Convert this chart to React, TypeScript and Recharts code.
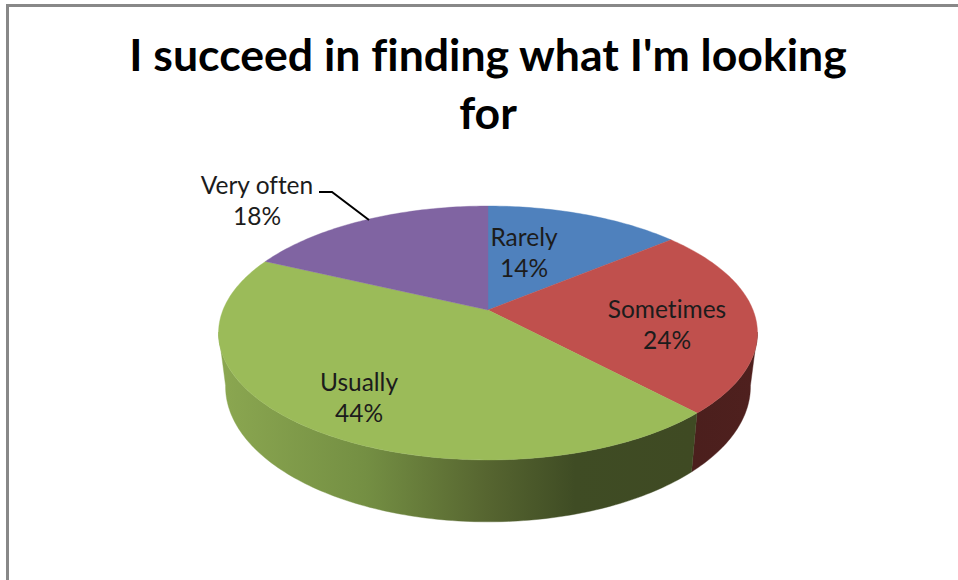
import React from "react";
import { PieChart, Pie } from "recharts";

// Survey answers, clockwise from twelve o'clock
const categories = ["Rarely", "Sometimes", "Usually", "Very often"];
const shares = [14, 24, 44, 18];

const TITLE_LINES = ["I succeed in finding what I'm looking", "for"];

const TOP_COLORS = ["#4f81bd", "#c0504d", "#9bbb59", "#8064a2"];
const WALL_COLORS = ["#2a4566", "url(#redWall)", "url(#greenWall)", "#44355a"];

// Centre of each two-line slice label
const LABEL_X = [524, 667, 359, 257];
const LABEL_Y = [236, 308, 381, 184];

const topRows = categories.map((name, i) => ({ name, value: shares[i], fill: TOP_COLORS[i] }));
const wallRows = categories.map((name, i) => ({ name, value: shares[i], fill: WALL_COLORS[i] }));

const FONT = "Lato, Carlito, sans-serif";
const TEXT_STYLE = { fontVariantLigatures: "none" } as const;

// Perspective of the disc: far side foreshortened, near side enlarged
const PERSPECTIVE = 0.181;
const TOP_PLANE = { ax: 1, by: 0.4634, dy: 0 };
const BOTTOM_PLANE = { ax: 0.974, by: 0.494, dy: 52 };
// Clockwise angle range of the rim that faces the viewer
const RIM_FROM = 100;
const RIM_TO = 260;

type Plane = typeof TOP_PLANE;

function project(theta: number, cx: number, cy: number, r: number, plane: Plane) {
  const rad = (theta * Math.PI) / 180;
  const u = Math.sin(rad);
  const v = Math.cos(rad);
  const den = 1 + PERSPECTIVE * v;
  return [cx + (r * plane.ax * u) / den, cy + plane.dy - (r * plane.by * v) / den];
}

function arc(from: number, to: number, cx: number, cy: number, r: number, plane: Plane) {
  const steps = Math.max(2, Math.ceil(Math.abs(to - from)));
  const pts: number[][] = [];
  for (let i = 0; i <= steps; i++) {
    pts.push(project(from + ((to - from) * i) / steps, cx, cy, r, plane));
  }
  return pts;
}

const toPath = (pts: number[][]) =>
  "M" + pts.map((p) => `${p[0].toFixed(2)},${p[1].toFixed(2)}`).join("L") + "Z";

// Flat top face of one slice
function TopSlice(props: any) {
  const { cx, cy, outerRadius, startAngle, endAngle, fill } = props;
  const pts = [[cx, cy], ...arc(90 - startAngle, 90 - endAngle, cx, cy, outerRadius, TOP_PLANE)];
  return <path d={toPath(pts)} fill={fill} stroke={fill} strokeWidth={0.4} />;
}

// Outer wall of one slice, only where the rim faces the viewer
function WallSlice(props: any) {
  const { cx, cy, outerRadius, startAngle, endAngle, fill } = props;
  const from = Math.max(90 - startAngle, RIM_FROM);
  const to = Math.min(90 - endAngle, RIM_TO);
  if (to <= from) return <g />;
  const upper = arc(from, to, cx, cy, outerRadius, TOP_PLANE);
  const lower = arc(to, from, cx, cy, outerRadius, BOTTOM_PLANE);
  return <path d={toPath([...upper, ...lower])} fill={fill} stroke={fill} strokeWidth={0.4} />;
}

function SliceLabel(props: any) {
  const i = props.index;
  const x = LABEL_X[i];
  const y = LABEL_Y[i];
  return (
    <g>
      <text x={x} y={y} textAnchor="middle" dominantBaseline="central" fontFamily={FONT} fontSize={24.5} fill="#1c1c1c" style={TEXT_STYLE}>
        {categories[i]}
      </text>
      <text x={x} y={y + 31} textAnchor="middle" dominantBaseline="central" fontFamily={FONT} fontSize={24.5} fill="#1c1c1c" style={TEXT_STYLE}>
        {shares[i]}%
      </text>
      {categories[i] === "Very often" && (
        <polyline points="319,192 332,192 369,220" fill="none" stroke="#000" strokeWidth={2} />
      )}
    </g>
  );
}

export default function App() {
  return (
    <div style={{ position: "absolute", left: 0, top: 0, width: 958, height: 580, overflow: "hidden", background: "#fff" }}>
      <div style={{ position: "absolute", left: 6, top: 4, width: 952, height: 3, background: "#888" }} />
      <div style={{ position: "absolute", left: 6, top: 4, width: 2.5, height: 576, background: "#888" }} />
      <PieChart width={958} height={580} margin={{ top: 0, right: 0, bottom: 0, left: 0 }} style={{ position: "absolute", left: 0, top: 0 }}>
        <defs>
          <linearGradient id="greenWall" gradientUnits="userSpaceOnUse" x1="226" y1="0" x2="692" y2="0">
            <stop offset="0" stopColor="#8aa650" />
            <stop offset="0.3" stopColor="#748f43" />
            <stop offset="0.56" stopColor="#566530" />
            <stop offset="0.75" stopColor="#3f4c24" />
            <stop offset="1" stopColor="#3f4a23" />
          </linearGradient>
          <linearGradient id="redWall" gradientUnits="userSpaceOnUse" x1="692" y1="0" x2="758" y2="0">
            <stop offset="0" stopColor="#4b1f1d" />
            <stop offset="1" stopColor="#4f201e" />
          </linearGradient>
        </defs>
        <Pie
          data={wallRows}
          dataKey="value"
          cx={488}
          cy={310}
          outerRadius={265}
          startAngle={90}
          endAngle={-270}
          shape={WallSlice}
          isAnimationActive={false}
          label={false}
          labelLine={false}
          stroke="none"
        />
        <Pie
          data={topRows}
          dataKey="value"
          cx={488}
          cy={310}
          outerRadius={265}
          startAngle={90}
          endAngle={-270}
          shape={TopSlice}
          isAnimationActive={false}
          label={SliceLabel}
          labelLine={false}
          stroke="none"
        />
        {TITLE_LINES.map((line, i) => (
          <text key={line} x={488} y={71 + i * 58} textAnchor="middle" fontFamily={FONT} fontWeight={700} fontSize={44.6} fill="#000" style={TEXT_STYLE}>
            {line}
          </text>
        ))}
      </PieChart>
    </div>
  );
}
